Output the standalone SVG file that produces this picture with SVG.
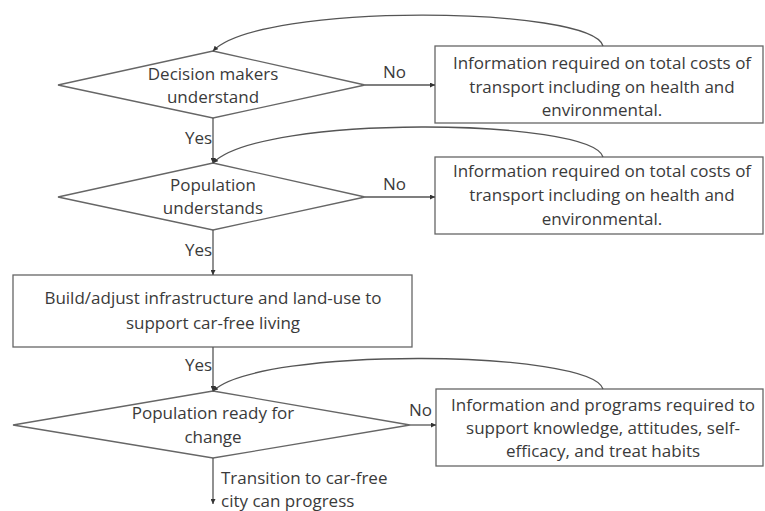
<svg xmlns="http://www.w3.org/2000/svg" width="765" height="511" viewBox="0 0 765 511">
<defs>
<marker id="ah" viewBox="0 0 10 10" refX="10" refY="5" markerWidth="5" markerHeight="5" orient="auto" markerUnits="userSpaceOnUse">
<path d="M0,0 L10,5 L0,10 z" fill="#333"/>
</marker>
<style>
.shape{fill:#fff;stroke:#666;stroke-width:1.3}
.t{font-family:"Open Sans",Lato,sans-serif;font-size:17px;fill:#3a3a3a;text-anchor:middle}
.l{font-family:"Open Sans",Lato,sans-serif;font-size:17px;fill:#3a3a3a}
.c{fill:none;stroke:#555;stroke-width:1.3}
</style>
</defs>
<rect width="765" height="511" fill="#fff"/>
<g id="d1">
<polygon class="shape" points="213,51 365,85 213,118 58,85"/>
<text class="t" x="213" y="80">Decision makers</text>
<text class="t" x="213" y="103">understand</text>
</g>
<g id="b1">
<rect class="shape" x="435" y="46" width="328" height="77"/>
<text class="t" x="602" y="69">Information required on total costs of</text>
<text class="t" x="602" y="93">transport including on health and</text>
<text class="t" x="602" y="116">environmental.</text>
</g>
<g id="d2">
<polygon class="shape" points="213,163 365,197 213,230 58,197"/>
<text class="t" x="213" y="191">Population</text>
<text class="t" x="213" y="214">understands</text>
</g>
<g id="b2">
<rect class="shape" x="435" y="157" width="328" height="77"/>
<text class="t" x="602" y="177">Information required on total costs of</text>
<text class="t" x="602" y="201">transport including on health and</text>
<text class="t" x="602" y="225">environmental.</text>
</g>
<g id="b3">
<rect class="shape" x="13" y="275" width="399" height="72"/>
<text class="t" x="213" y="304">Build/adjust infrastructure and land-use to</text>
<text class="t" x="213" y="329">support car-free living</text>
</g>
<g id="d3">
<polygon class="shape" points="213,391 410,425 213,458 13,425"/>
<text class="t" x="213" y="419">Population ready for</text>
<text class="t" x="213" y="443">change</text>
</g>
<g id="b4">
<rect class="shape" x="436" y="389" width="327" height="77"/>
<text class="t" x="603" y="411">Information and programs required to</text>
<text class="t" x="603" y="434">support knowledge, attitudes, self-</text>
<text class="t" x="603" y="457">efficacy, and treat habits</text>
</g>
<g id="connectors">
<line class="c" x1="365" y1="85" x2="435" y2="85" marker-end="url(#ah)"/>
<line class="c" x1="365" y1="197" x2="435" y2="197" marker-end="url(#ah)"/>
<line class="c" x1="410" y1="425" x2="436" y2="425" marker-end="url(#ah)"/>
<line class="c" x1="213" y1="118" x2="213" y2="163" marker-end="url(#ah)"/>
<line class="c" x1="213" y1="230" x2="213" y2="275" marker-end="url(#ah)"/>
<line class="c" x1="213" y1="347" x2="213" y2="391" marker-end="url(#ah)"/>
<line class="c" x1="213" y1="458" x2="213" y2="504" marker-end="url(#ah)"/>
<path class="c" d="M603,46 C592,6 260,2 213,51" marker-end="url(#ah)"/>
<path class="c" d="M603,157 C592,118 260,114 213,163" marker-end="url(#ah)"/>
<path class="c" d="M603,389 C592,350 260,346 213,391" marker-end="url(#ah)"/>
<text class="l" x="383" y="78">No</text>
<text class="l" x="383" y="190">No</text>
<text class="l" x="409" y="416">No</text>
<text class="l" x="185" y="144">Yes</text>
<text class="l" x="185" y="256">Yes</text>
<text class="l" x="185" y="371">Yes</text>
<text class="l" x="221" y="484">Transition to car-free</text>
<text class="l" x="221" y="507">city can progress</text>
</g>
</svg>
